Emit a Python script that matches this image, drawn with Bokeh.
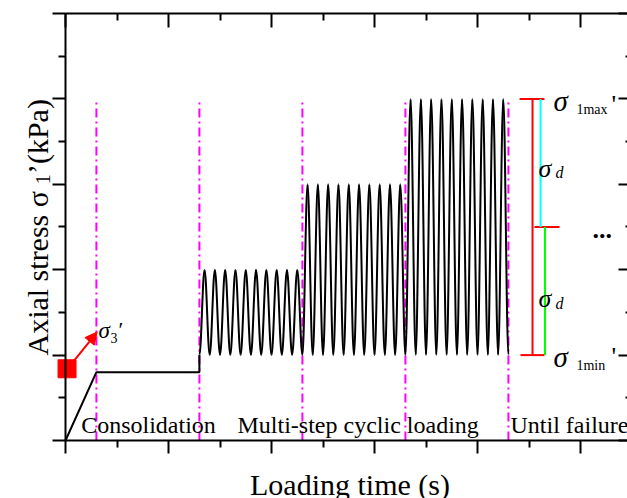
import math
from bokeh.plotting import figure
from bokeh.models import (Range1d, LinearAxis, FixedTicker, Label, Arrow,
                          NormalHead, ColumnDataSource)
from bokeh.embed import file_html
from bokeh.resources import INLINE

# ---------------- data (read from the schematic) ----------------
phase_bounds = [0.0, 0.3, 1.3, 2.3, 3.3, 4.3]     # magenta dash-dot lines at 1..5
phase_top = 4.0
consolidation_stress = 0.8
cyclic_min = 1.0
step_max = [2.0, 3.0, 4.0]
cycles_per_step = [10, 10, 10]
cycle_period = 0.1
sigma_mid = 2.5
phase_labels = ["Consolidation", "Multi-step cyclic loading", "Until failure"]
phase_label_x = [0.152, 1.670, 4.32]
x_major = [0, 1, 2, 3, 4, 5]
x_minor = [0.5, 1.5, 2.5, 3.5, 4.5]
y_major = [0, 1, 2, 3, 4, 5]
y_minor = [0.5, 1.5, 2.5, 3.5, 4.5]
x_end = 5.456
y_end = 5.0

SERIF = "Liberation Serif"

# frame covers the whole canvas; axes are pinned with fixed_location + bounds
p = figure(width=627, height=498,
           x_range=Range1d(-0.631, 5.456), y_range=Range1d(-0.679, 5.152),
           output_backend="svg", toolbar_location=None,
           x_axis_location=None, y_axis_location=None,
           min_border_left=0, min_border_right=0, min_border_top=0, min_border_bottom=0)
p.outline_line_color = None
p.xgrid.visible = False
p.ygrid.visible = False
p.background_fill_color = "white"
p.border_fill_color = "white"


def make_axis(ticks, minors, loc, bounds, tin, min_in, line=True):
    ax = LinearAxis(ticker=FixedTicker(ticks=ticks, minor_ticks=minors),
                    fixed_location=loc, bounds=bounds)
    ax.major_label_text_font_size = "0px"
    ax.major_label_text_color = None
    ax.major_label_standoff = 0
    ax.major_tick_in = tin
    ax.major_tick_out = 0
    ax.minor_tick_in = min_in
    ax.minor_tick_out = 0
    ax.axis_line_width = 2
    ax.major_tick_line_width = 2
    ax.minor_tick_line_width = 2
    ax.axis_line_color = "black" if line else None
    return ax


# bottom axis (ticks pointing down) and top axis (ticks pointing down, inward)
p.add_layout(make_axis(x_major, x_minor, 0, (0, x_end), 13, 7), "above")
p.add_layout(make_axis(x_major, x_minor, y_end, (0, x_end), 14, 7), "above")
# left axis (ticks pointing left, outward) and right axis (ticks pointing left, inward)
p.add_layout(make_axis(y_major, y_minor, 0, (0, y_end), 13, 7), "right")
p.add_layout(make_axis(y_major, y_minor, x_end, (0, y_end), 9, 2, line=False), "right")

# phase separators
for xb in phase_bounds[1:]:
    p.line([xb, xb], [0, phase_top], line_color="#FF00FF", line_width=2,
           line_dash="9 4 2 4")

# ramp + consolidation plateau
p.line([phase_bounds[0], phase_bounds[1], phase_bounds[2], phase_bounds[2]],
       [0, consolidation_stress, consolidation_stress, cyclic_min],
       line_color="black", line_width=2)

# cyclic loading turning points
tx, ty = [], []
for k, (peak, n) in enumerate(zip(step_max, cycles_per_step)):
    start = phase_bounds[2 + k]
    for j in range(n):
        tx += [start + j * cycle_period, start + (j + 0.5) * cycle_period]
        ty += [cyclic_min, peak]
tx.append(phase_bounds[5])
ty.append(cyclic_min)

a = 0.364
x0, y0, x1, y1, cx0, cy0, cx1, cy1 = [], [], [], [], [], [], [], []
for i in range(len(tx) - 1):
    dx = tx[i + 1] - tx[i]
    x0.append(tx[i]); y0.append(ty[i]); x1.append(tx[i + 1]); y1.append(ty[i + 1])
    cx0.append(tx[i] + a * dx); cy0.append(ty[i])
    cx1.append(tx[i + 1] - a * dx); cy1.append(ty[i + 1])
src = ColumnDataSource(dict(x0=x0, y0=y0, x1=x1, y1=y1, cx0=cx0, cy0=cy0, cx1=cx1, cy1=cy1))
p.bezier(x0="x0", y0="y0", x1="x1", y1="y1", cx0="cx0", cy0="cy0", cx1="cx1", cy1="cy1",
         source=src, line_color="black", line_width=2)

# red square (confining stress) + arrow
p.scatter([0.015], [0.84], marker="square", size=18, fill_color="red", line_color="red")
p.add_layout(Arrow(end=NormalHead(size=12, fill_color="red", line_color="red", line_width=1),
                   x_start=0.068, y_start=0.913, x_end=0.307, y_end=1.27,
                   line_color="red", line_width=2))

# amplitude bracket at right
sig_max = step_max[-1]
p.line([4.534, 4.534], [cyclic_min, sig_max], line_color="red", line_width=2)
p.line([4.408, 4.650], [sig_max, sig_max], line_color="red", line_width=2)
p.line([4.553, 4.796], [sigma_mid, sigma_mid], line_color="red", line_width=2)
p.line([4.417, 4.650], [cyclic_min, cyclic_min], line_color="red", line_width=2)
p.line([4.612, 4.612], [sigma_mid, sig_max], line_color="#00FFFF", line_width=2)
p.line([4.655, 4.655], [cyclic_min, sigma_mid], line_color="#00FF00", line_width=2)


def lab(x, y, text, size, style="normal", angle=0.0, align="left", baseline="alphabetic"):
    p.add_layout(Label(x=x, y=y, text=text, text_font=SERIF, text_font_size=f"{size}px",
                       text_font_style=style, angle=angle, text_align=align,
                       text_baseline=baseline, text_color="black"))


# phase labels
for t, xl in zip(phase_labels, phase_label_x):
    lab(xl, 0.187, t, 24)

# sigma_3'
lab(0.32, 1.288, "σ", 23, "italic")
lab(0.437, 1.206, "3", 14)
lab(0.515, 1.30, "′", 22)

# sigma_1max'
lab(4.738, 3.97, "σ", 29, "italic")
lab(4.96, 3.88, "1max", 14)
lab(5.30, 3.93, "'", 26)
# sigma_d (upper, lower)
lab(4.592, 3.185, "σ", 26, "italic")
lab(4.757, 3.138, "d", 16, "italic")
lab(4.592, 1.663, "σ", 26, "italic")
lab(4.757, 1.604, "d", 16, "italic")
# sigma_1min'
lab(4.738, 0.98, "σ", 29, "italic")
lab(4.96, 0.878, "1min", 14)
lab(5.30, 0.98, "'", 26)
# ellipsis
lab(5.117, 2.47, "...", 26, "bold")

# axis titles
lab(2.762, -0.515, "Loading time (s)", 30, align="center")
lab(-0.272, 0.995, "Axial stress  σ", 30, angle=math.pi / 2)
lab(-0.214, 3.0, "1", 20, angle=math.pi / 2)
lab(-0.272, 3.12, "’(kPa)", 30, angle=math.pi / 2)

open("out.html", "w").write(file_html(p, INLINE))
